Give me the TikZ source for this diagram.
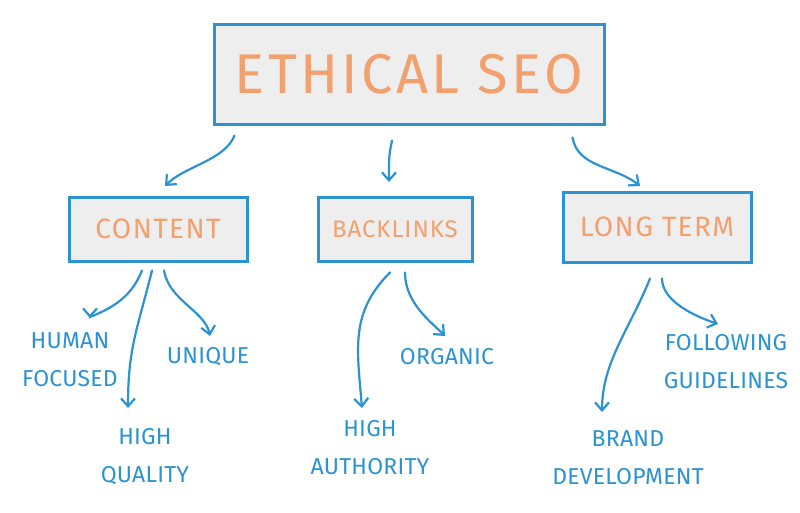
\documentclass[tikz,border=0pt]{standalone}
\usepackage{fontspec}
\setmainfont{Fira Sans}
\usetikzlibrary{arrows.meta}
\definecolor{sblue}{HTML}{2B93D1}
\definecolor{sorange}{HTML}{F2A06E}
\definecolor{sgray}{HTML}{EEEEEE}
\tikzset{
 box/.style={draw=sblue,fill=sgray,line width=3pt,text=sorange,inner sep=0pt},
 lbl/.style={text=sblue,font=\fontsize{23}{38}\selectfont\addfontfeature{LetterSpace=1},align=center},
 arr/.style={draw=sblue,line width=2.2pt,-{Straight Barb[length=8pt,width=14pt,line width=2.2pt]},line cap=round}
}
\begin{document}
\begin{tikzpicture}[x=1pt,y=-1pt]
\useasboundingbox (0,0) rectangle (800,512);
\node[box,minimum width=390,minimum height=100,font=\fontsize{56}{60}\selectfont\addfontfeature{LetterSpace=6}] (main) at (409,74) {ETHICAL SEO};
\node[box,minimum width=178,minimum height=64,font=\fontsize{28}{32}\selectfont\addfontfeature{LetterSpace=5}] (content) at (158,229) {CONTENT};
\node[box,minimum width=154,minimum height=64,font=\fontsize{24}{28}\selectfont\addfontfeature{LetterSpace=4}] (back) at (395,229) {BACKLINKS};
\node[box,minimum width=188,minimum height=70,font=\fontsize{28}{32}\selectfont\addfontfeature{LetterSpace=5}] (long) at (657,227) {LONG TERM};
\node[lbl] (human) at (70,360) {HUMAN\\FOCUSED};
\node[lbl] (unique) at (208,357) {UNIQUE};
\node[lbl] (hq) at (145,457) {HIGH\\QUALITY};
\node[lbl] (organic) at (447,357) {ORGANIC};
\node[lbl] (ha) at (370,448) {HIGH\\AUTHORITY};
\node[lbl] (follow) at (726,362) {FOLLOWING\\GUIDELINES};
\node[lbl] (brand) at (628,458) {BRAND\\DEVELOPMENT};
\draw[arr] (main.south west)+(22,10) .. controls +(-10,25) and +(20,-20) .. (165,186);
\draw[arr] (main.south)+(-17,15) .. controls +(-3,15) .. (389,182);
\draw[arr] (main.south east)+(-33,12) .. controls +(5,30) and +(-25,-20) .. (640,186);
\draw[arr] (content.south)+(-16,8) .. controls +(-10,25) and +(25,-10) .. (90,317) -- (90,318);
\draw[arr] (content.south)+(-6,8) .. controls +(-15,60) and +(0,-60) .. (128,408);
\draw[arr] (content.south)+(6,8) .. controls +(5,30) and +(-5,-25) .. (210,336);
\draw[arr] (back.south)+(-5,10) .. controls +(-40,40) and +(-5,-60) .. (362,408);
\draw[arr] (back.south)+(10,10) .. controls +(0,30) and +(-15,-15) .. (445,336);
\draw[arr] (long.south)+(-7,15) .. controls +(-20,50) and +(0,-50) .. (602,412);
\draw[arr] (long.south)+(5,15) .. controls +(0,20) and +(-30,-10) .. (718,324);
\end{tikzpicture}
\end{document}
